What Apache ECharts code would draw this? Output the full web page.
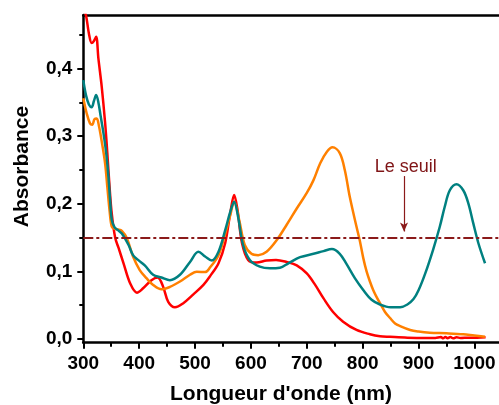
<!DOCTYPE html>
<html>
<head>
<meta charset="utf-8">
<script src="https://cdn.jsdelivr.net/npm/echarts@6/dist/echarts.min.js"></script>
<style>
html,body{margin:0;padding:0;background:#fff;}
#c{width:499px;height:405px;}
</style>
</head>
<body>
<div id="c"></div>
<script>
// ---- data (wavelength nm, absorbance) ----
const redWl  = [300,305,310,315,319,323,327,333,339,343,347,351,357,363,372,384,396,407,422,433,443,452,464,479,497,515,527,542,554,563,570,576,584,595,610,628,645,664,682,700,715,730,747,765,789,813,831,849,880,910,930,940,944,948,952,957,962,968,975,990,1005,1020];
const redAbs = [0.490,0.478,0.452,0.438,0.441,0.447,0.415,0.373,0.320,0.275,0.225,0.185,0.150,0.135,0.112,0.082,0.0685,0.075,0.087,0.091,0.077,0.055,0.047,0.053,0.066,0.080,0.093,0.112,0.142,0.186,0.213,0.191,0.142,0.117,0.113,0.116,0.117,0.114,0.109,0.097,0.080,0.060,0.040,0.0256,0.0133,0.007,0.004,0.0032,0.002,0.0015,0.0015,0.0028,0.001,0.003,0.0012,0.0028,0.001,0.0026,0.0015,0.002,0.002,0.0025];

const tealWl  = [300,305,310,315,319,323,327,331,336,341,345,348,351,356,362,369,381,389,398,410,425,440,455,473,491,506,518,530,542,554,563,570,577,586,598,616,634,652,667,688,712,730,745,759,771,786,801,816,831,850,867,880,891,900,912,926,938,947,956,968,980,989,998,1007,1019];
const tealAbs = [0.383,0.360,0.347,0.343,0.352,0.361,0.350,0.330,0.305,0.275,0.240,0.205,0.176,0.165,0.161,0.156,0.139,0.124,0.117,0.109,0.095,0.091,0.087,0.095,0.114,0.129,0.122,0.116,0.129,0.161,0.188,0.203,0.181,0.139,0.117,0.107,0.1045,0.1055,0.112,0.121,0.126,0.130,0.133,0.126,0.111,0.090,0.0725,0.058,0.051,0.047,0.047,0.051,0.059,0.072,0.097,0.132,0.166,0.196,0.220,0.229,0.220,0.201,0.171,0.142,0.112];

const orangeWl  = [300,306,312,316,320,324,328,333,339,343,347,351,356,362,369,378,389,401,413,425,440,455,473,491,503,518,527,542,554,563,570,579,589,601,613,628,646,664,682,700,712,724,736,746,759,768,777,789,795,801,807,813,819,825,831,840,849,858,867,885,900,920,950,980,1000,1019];
const orangeAbs = [0.356,0.334,0.319,0.317,0.325,0.326,0.315,0.292,0.260,0.225,0.190,0.166,0.163,0.162,0.160,0.149,0.122,0.102,0.090,0.080,0.0735,0.077,0.085,0.095,0.0995,0.099,0.106,0.124,0.156,0.183,0.203,0.176,0.139,0.126,0.124,0.129,0.146,0.169,0.193,0.216,0.235,0.260,0.277,0.2835,0.275,0.250,0.210,0.166,0.145,0.120,0.100,0.085,0.072,0.062,0.053,0.040,0.031,0.023,0.019,0.0133,0.011,0.0093,0.0084,0.007,0.005,0.0034];

const threshold = 0.15;
const arrowWl = 874, arrowTop = 0.241, arrowTip = 0.159;
const seuilLabel = 'Le seuil', seuilLabelWl = 877, seuilLabelAbs = 0.2549;

const xMajor = [300,400,500,600,700,800,900,1000];
const xMinor = [350,450,550,650,750,850,950];
const yMajor = [0,0.1,0.2,0.3,0.4];
const yMinor = [0.05,0.15,0.25,0.35,0.45];

const xTitle = "Longueur d'onde (nm)";
const yTitle = 'Absorbance';

const zip = (a,b) => a.map((v,i)=>[v,b[i]]);
const FONT = '"Liberation Sans", Arial, sans-serif';
const DARKRED = '#8B1A1A';

const chart = echarts.init(document.getElementById('c'), null, {renderer:'canvas'});
const xMin = 300, xMax = 1044, yMin = -0.0055, yMax = 0.4793;

const baseX = {type:'value', min:xMin, max:xMax, gridIndex:0, splitLine:{show:false}};
const baseY = {type:'value', min:yMin, max:yMax, gridIndex:0, splitLine:{show:false}};

chart.setOption({
  animation:false,
  backgroundColor:'#fff',
  grid:{left:83.3, top:15, right:0, bottom:62.3, containLabel:false},
  xAxis:[
    Object.assign({}, baseX, {position:'bottom',
      axisLine:{show:true, onZero:false, lineStyle:{color:'#000', width:2.5}},
      axisTick:{show:true, inside:false, length:6, lineStyle:{color:'#000', width:2}, customValues:xMajor},
      axisLabel:{show:true, margin:12, color:'#000', fontFamily:FONT, fontWeight:'bold', fontSize:19, customValues:xMajor, formatter:v=>String(v)}}),
    Object.assign({}, baseX, {position:'bottom',
      axisLine:{show:false, onZero:false},
      axisTick:{show:true, inside:false, length:4, lineStyle:{color:'#000', width:2}, customValues:xMinor},
      axisLabel:{show:false}}),
    Object.assign({}, baseX, {position:'top',
      axisLine:{show:true, onZero:false, lineStyle:{color:'#000', width:2.5}},
      axisTick:{show:false}, axisLabel:{show:false}})
  ],
  yAxis:[
    Object.assign({}, baseY, {position:'left',
      axisLine:{show:true, onZero:false, lineStyle:{color:'#000', width:2.5}},
      axisTick:{show:true, inside:false, length:6, lineStyle:{color:'#000', width:2}, customValues:yMajor},
      axisLabel:{show:true, margin:11, color:'#000', fontFamily:FONT, fontWeight:'bold', fontSize:19, customValues:yMajor,
        formatter:v=>Number(v).toFixed(1).replace('.', ',')}}),
    Object.assign({}, baseY, {position:'left',
      axisLine:{show:false, onZero:false},
      axisTick:{show:true, inside:false, length:4, lineStyle:{color:'#000', width:2}, customValues:yMinor},
      axisLabel:{show:false}})
  ],
  graphic:[
    {type:'text', x:22, y:166.5, rotation:Math.PI/2,
      style:{text:yTitle, font:'bold 21px '+FONT, fill:'#000', align:'center', verticalAlign:'middle'}},
    {type:'text', x:281, y:394.5,
      style:{text:xTitle, font:'bold 21px '+FONT, fill:'#000', align:'center', verticalAlign:'middle'}}
  ],
  series:[
    {type:'line', name:'orange', xAxisIndex:0, yAxisIndex:0, data:zip(orangeWl, orangeAbs), showSymbol:false, smooth:0.35,
      lineStyle:{color:'#FF8000', width:2.5}, itemStyle:{color:'#FF8000'}, z:3},
    {type:'line', name:'teal', xAxisIndex:0, yAxisIndex:0, data:zip(tealWl, tealAbs), showSymbol:false, smooth:0.35,
      lineStyle:{color:'#008080', width:2.5}, itemStyle:{color:'#008080'}, z:4},
    {type:'line', name:'red', xAxisIndex:0, yAxisIndex:0, data:zip(redWl, redAbs), showSymbol:false, smooth:0.35,
      lineStyle:{color:'#FF0000', width:2.5}, itemStyle:{color:'#FF0000'}, z:2,
      markLine:{silent:true, animation:false, symbol:['none','none'],
        lineStyle:{color:DARKRED, width:2, type:[10,3,3,3]}, label:{show:false},
        data:[{yAxis:threshold}]}},
    {type:'line', name:'arrow', xAxisIndex:0, yAxisIndex:0, data:[], z:5,
      markLine:{silent:true, animation:false, symbol:['none','arrow'], symbolSize:[6,9],
        lineStyle:{color:DARKRED, width:1.2, type:'solid'}, label:{show:false},
        data:[[{coord:[arrowWl, arrowTop]},{coord:[arrowWl, arrowTip]}]]},
      markPoint:{silent:true, animation:false, symbol:'circle', symbolSize:0,
        label:{show:true, position:'inside', formatter:seuilLabel, color:'#7F1416', fontFamily:FONT, fontSize:18},
        data:[{coord:[seuilLabelWl, seuilLabelAbs]}]}}
  ]
});
</script>
</body>
</html>
